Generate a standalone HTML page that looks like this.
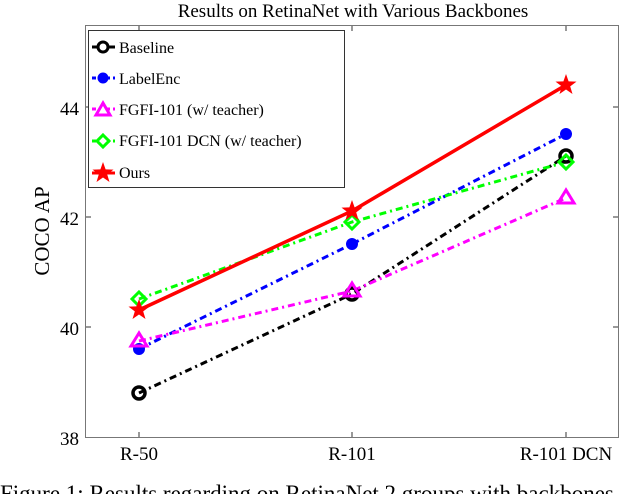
<!DOCTYPE html>
<html><head><meta charset="utf-8"><style>
html,body{margin:0;padding:0;background:#fff;overflow:hidden;}
svg{display:block;font-family:"Liberation Serif",serif;}
</style></head><body>
<svg width="640" height="494" viewBox="0 0 640 494" xmlns="http://www.w3.org/2000/svg">
<defs>
<polygon id="star" points="0,-11 2.6,-3.6 10.5,-3.4 4.2,1.4 6.5,9 0,4.5 -6.5,9 -4.2,1.4 -10.5,-3.4 -2.6,-3.6" fill="#f00"/>
</defs>
<text x="353" y="17" font-size="19" text-anchor="middle" fill="#000">Results on RetinaNet with Various Backbones</text>
<rect x="85.5" y="25.5" width="533" height="412" fill="none" stroke="#777" stroke-width="1"/>
<g stroke="#333" stroke-width="1">
<line x1="86" y1="107" x2="91" y2="107"/><line x1="86" y1="217" x2="91" y2="217"/><line x1="86" y1="327" x2="91" y2="327"/>
<line x1="618" y1="107" x2="613" y2="107"/><line x1="618" y1="217" x2="613" y2="217"/><line x1="618" y1="327" x2="613" y2="327"/>
<line x1="139" y1="437" x2="139" y2="432"/><line x1="352" y1="437" x2="352" y2="432"/><line x1="566" y1="437" x2="566" y2="432"/>
<line x1="139" y1="26" x2="139" y2="31"/><line x1="352" y1="26" x2="352" y2="31"/><line x1="566" y1="26" x2="566" y2="31"/>
</g>
<g font-size="19" fill="#000" text-anchor="end">
<text x="79" y="445">38</text><text x="79" y="335">40</text><text x="79" y="225">42</text><text x="79" y="115">44</text>
</g>
<g font-size="19" fill="#000" text-anchor="middle">
<text x="139" y="460">R-50</text><text x="352" y="460">R-101</text><text x="566" y="460">R-101 DCN</text>
</g>
<text transform="translate(49,231) rotate(-90)" font-size="21" text-anchor="middle" fill="#000">COCO AP</text>

<g fill="none" stroke-width="3" stroke-dasharray="7,4,2,4">
<polyline points="139,393 352,294 566,156" stroke="#000"/>
<polyline points="139,349 352,244 566,134" stroke="#00f"/>
<polyline points="139,341 352,291 566,198" stroke="#f0f"/>
<polyline points="139,299 352,222 566,162" stroke="#0f0"/>
</g>
<polyline points="139,310 352,211 566,85" fill="none" stroke="#f00" stroke-width="3.5"/>

<g fill="none" stroke="#000" stroke-width="3.5">
<circle cx="139" cy="393" r="6"/><circle cx="352" cy="294" r="6"/><circle cx="566" cy="156" r="6"/>
</g>
<g fill="#00f">
<circle cx="139" cy="349" r="6"/><circle cx="352" cy="244" r="6"/><circle cx="566" cy="134" r="6"/>
</g>
<g fill="none" stroke="#f0f" stroke-width="3">
<polygon points="139,333 131,346 147,346"/><polygon points="352,283 344,296 360,296"/><polygon points="566,190 558,203 574,203"/>
</g>
<g fill="none" stroke="#0f0" stroke-width="3">
<polygon points="139,292 146,299 139,306 132,299"/><polygon points="352,215 359,222 352,229 345,222"/><polygon points="566,155 573,162 566,169 559,162"/>
</g>
<use href="#star" x="139" y="310"/><use href="#star" x="352" y="211"/><use href="#star" x="566" y="85"/>

<rect x="88.5" y="30.5" width="256" height="157" fill="#fff" stroke="#333" stroke-width="1"/>
<g font-size="16" fill="#000">
<text x="119" y="53">Baseline</text>
<text x="119" y="84">LabelEnc</text>
<text x="119" y="115">FGFI-101 (w/ teacher)</text>
<text x="119" y="146">FGFI-101 DCN (w/ teacher)</text>
<text x="119" y="178">Ours</text>
</g>
<line x1="92" y1="47" x2="115" y2="47" stroke="#000" stroke-width="3"/>
<circle cx="103" cy="47" r="5" fill="#fff" stroke="#000" stroke-width="3"/>
<line x1="92" y1="78" x2="115" y2="78" stroke="#00f" stroke-width="3" stroke-dasharray="4,3"/>
<circle cx="103" cy="78" r="5.5" fill="#00f"/>
<line x1="92" y1="109" x2="115" y2="109" stroke="#f0f" stroke-width="3" stroke-dasharray="4,3"/>
<polygon points="103,103 96,115 110,115" fill="#fff" stroke="#f0f" stroke-width="3"/>
<line x1="92" y1="141" x2="115" y2="141" stroke="#0f0" stroke-width="3" stroke-dasharray="4,3"/>
<polygon points="103,135 109,141 103,147 97,141" fill="#fff" stroke="#0f0" stroke-width="3"/>
<line x1="92" y1="173" x2="115" y2="173" stroke="#f00" stroke-width="3"/>
<use href="#star" x="103" y="173"/>

<text x="0" y="501" font-size="23" fill="#000">Figure 1: Results regarding on RetinaNet 2 groups with backbones</text>
</svg>
</body></html>
